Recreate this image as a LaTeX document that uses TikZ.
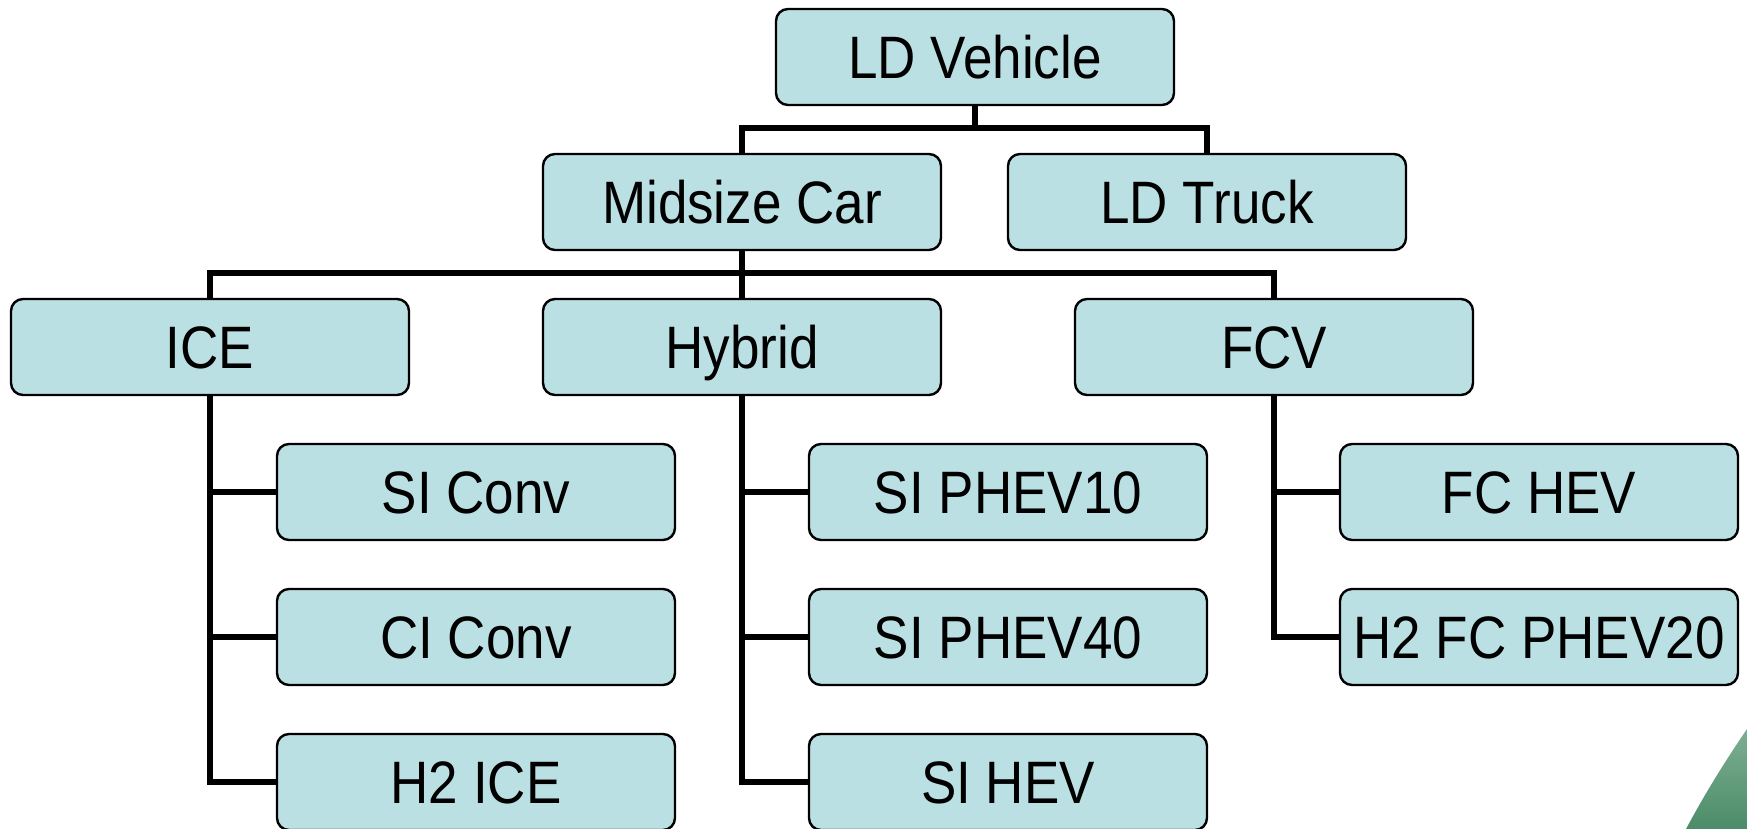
\documentclass[tikz,border=0pt]{standalone}
\usepackage{fontspec}
\setmainfont{Liberation Sans}
\usepackage{graphicx}
\definecolor{boxfill}{RGB}{187,224,227}
\definecolor{greenA}{RGB}{125,175,145}
\definecolor{greenB}{RGB}{75,140,105}
\newcommand{\tx}[1]{\scalebox{1}[1.13]{#1}}
\begin{document}
\begin{tikzpicture}[x=0.5pt,y=-0.5pt,
  box/.style={draw=black, line width=1.2pt, fill=boxfill, rounded corners=6pt,
    minimum width=199pt, minimum height=48pt, inner sep=0pt,
    text height=21.4pt, text depth=0pt,
    font=\fontsize{26.5}{30}\selectfont},
  conn/.style={line width=2.6pt, line cap=rect}]
\useasboundingbox (0,0) rectangle (1747,829);
\clip (0,0) rectangle (1747,829);
% green decoration
\shade[top color=greenA, bottom color=greenB]
  (1686,829) .. controls (1708,788) and (1728,757) .. (1747,729) -- (1747,829) -- cycle;
% coordinates
\coordinate (b1) at (975,128);
\coordinate (b2) at (742,273);
% connectors (drawn first)
\begin{scope}[conn]
\draw (975,100) -- (b1);
\draw (b1) -| (742,160);
\draw (b1) -| (1207,160);
\draw (742,245) -- (b2);
\draw (b2) -| (210,305);
\draw (b2) -| (742,305);
\draw (b2) -| (1274,305);
\end{scope}
% nodes
\node[box] (LDV) at (975,57) {\tx{LD Vehicle}};
\node[box] (MC) at (742,202) {\tx{Midsize Car}};
\node[box] (LDT) at (1207,202) {\tx{LD Truck}};
\node[box] (ICE) at (210,347) {\tx{ICE}};
\node[box] (HYB) at (742,347) {\tx{Hybrid}};
\node[box] (FCV) at (1274,347) {\tx{FCV}};
\node[box] (SIC) at (476,492) {\tx{SI Conv}};
\node[box] (CIC) at (476,637) {\tx{CI Conv}};
\node[box] (H2I) at (476,782) {\tx{H2 ICE}};
\node[box] (P10) at (1008,492) {\tx{SI PHEV10}};
\node[box] (P40) at (1008,637) {\tx{SI PHEV40}};
\node[box] (HEV) at (1008,782) {\tx{SI HEV}};
\node[box] (FCH) at (1539,492) {\tx{FC HEV}};
\node[box] (H2F) at (1539,637) {\tx{H2 FC PHEV20}};
% child connectors
\begin{scope}[conn]
\draw (ICE.south) |- (SIC.west);
\draw (ICE.south) |- (CIC.west);
\draw (ICE.south) |- (H2I.west);
\draw (HYB.south) |- (P10.west);
\draw (HYB.south) |- (P40.west);
\draw (HYB.south) |- (HEV.west);
\draw (FCV.south) |- (FCH.west);
\draw (FCV.south) |- (H2F.west);
\end{scope}
\end{tikzpicture}
\end{document}
